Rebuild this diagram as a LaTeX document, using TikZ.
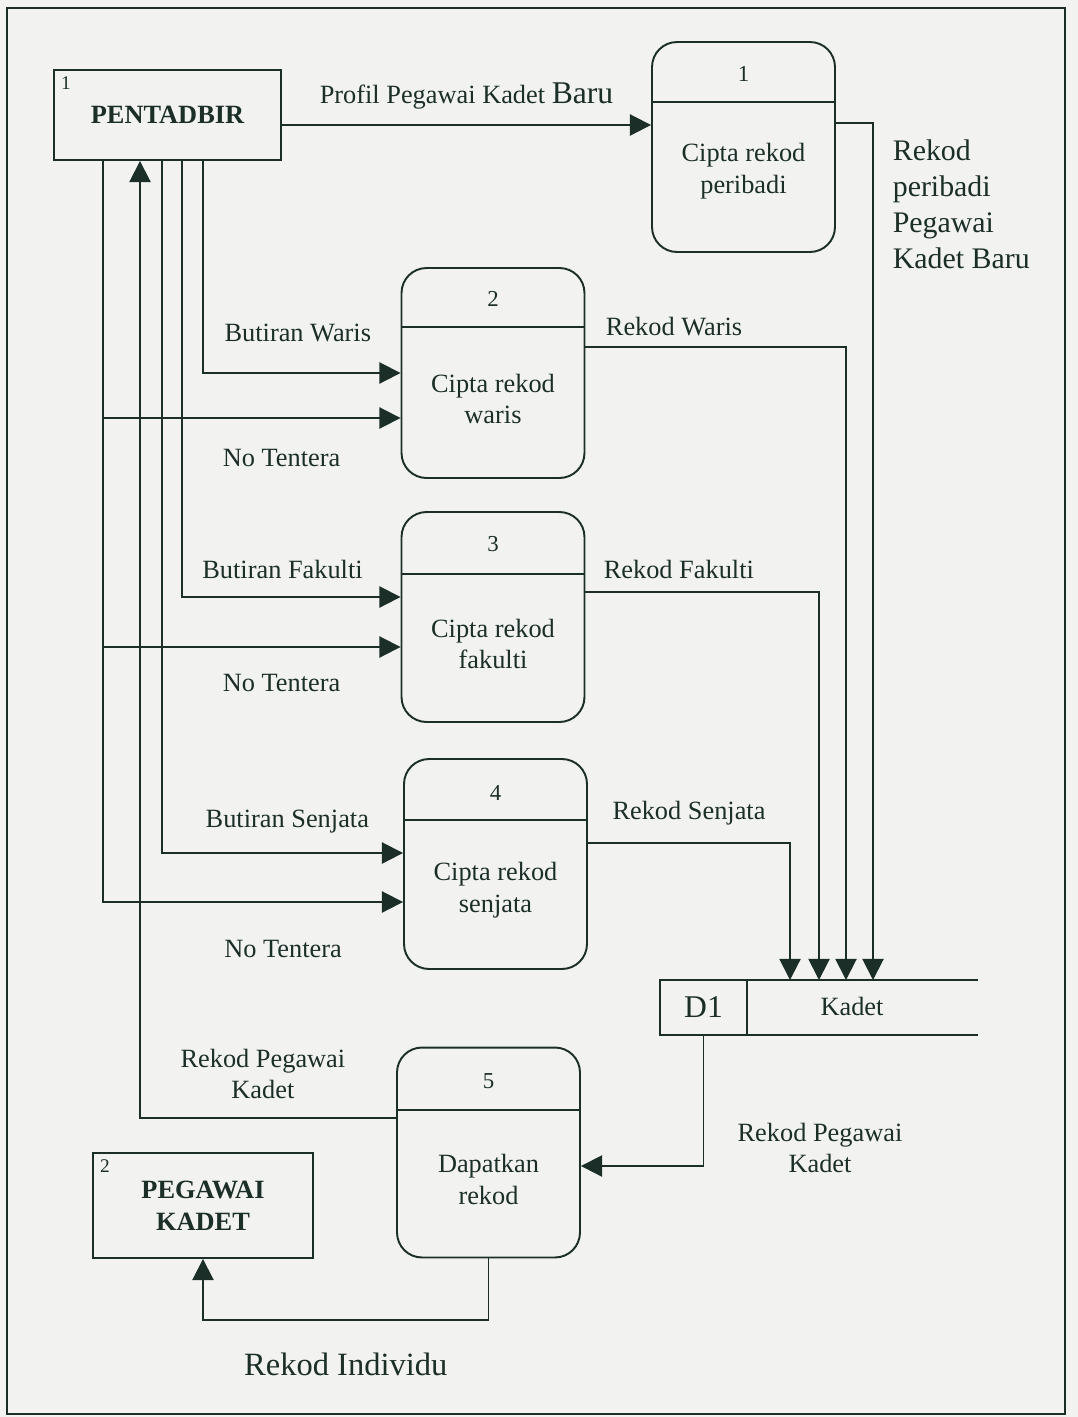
\documentclass[tikz,border=0pt]{standalone}
\usepackage{fontspec}
\setmainfont{Liberation Serif}
\usepackage{tikz}
\usetikzlibrary{arrows.meta,positioning,calc}

\definecolor{ink}{RGB}{28,46,40}
\definecolor{paper}{RGB}{242,243,241}

\begin{document}
\begin{tikzpicture}[
    x=0.02cm, y=-0.02cm,
    color=ink, line width=1.1pt,
    process/.style={rectangle, rounded corners=0.5cm, draw, minimum width=3.66cm, minimum height=4.2cm},
    ptext/.style={align=center, font=\fontsize{15}{18}\selectfont},
    pnum/.style={font=\fontsize{13}{15}\selectfont},
    entity/.style={rectangle, draw, align=center, font=\bfseries\fontsize{15}{18}\selectfont},
    entnum/.style={font=\fontsize{11}{12}\selectfont, inner xsep=4pt, inner ysep=4pt},
    flow/.style={align=center, font=\fontsize{15}{18}\selectfont},
    arrow/.style={-{Triangle[length=12pt,width=12pt]}}
]

\fill[paper] (0,0) rectangle (1078,1417);
\useasboundingbox (0,0) rectangle (1078,1417);
\draw[line width=1.2pt] (7,8) rectangle (1065,1414);

% External entities
\node[entity, minimum width=4.54cm, minimum height=1.8cm] (pentadbir) at (167.5,115) {PENTADBIR};
\node[entnum, anchor=north west] (pentnum) at (pentadbir.north west) {1};
\node[entity, minimum width=4.4cm, minimum height=2.1cm] (pegawai) at (203,1205.5) {PEGAWAI\\KADET};
\node[entnum, anchor=north west] (pegnum) at (pegawai.north west) {2};

% Processes
\node[process] (p1) at (743.5,147) {};
\node[pnum] (p1num) at ($(p1.north)+(0,33)$) {1};
\node[ptext] (p1txt) at ($(p1.center)+(0,24)$) {Cipta rekod\\peribadi};
\draw ($(p1.north west)+(0,61)$) -- ($(p1.north east)+(0,61)$);

\node[process] (p2) at (493,373) {};
\node[pnum] (p2num) at ($(p2.north)+(0,32)$) {2};
\node[ptext] (p2txt) at ($(p2.center)+(0,26)$) {Cipta rekod\\waris};
\draw ($(p2.north west)+(0,60)$) -- ($(p2.north east)+(0,60)$);

\node[process] (p3) at (493,617) {};
\node[pnum] (p3num) at ($(p3.north)+(0,33)$) {3};
\node[ptext] (p3txt) at ($(p3.center)+(0,27)$) {Cipta rekod\\fakulti};
\draw ($(p3.north west)+(0,63)$) -- ($(p3.north east)+(0,63)$);

\node[process] (p4) at (495.5,864) {};
\node[pnum] (p4num) at ($(p4.north)+(0,35)$) {4};
\node[ptext] (p4txt) at ($(p4.center)+(0,26)$) {Cipta rekod\\senjata};
\draw ($(p4.north west)+(0,62)$) -- ($(p4.north east)+(0,62)$);

\node[process] (p5) at (488.5,1152.5) {};
\node[pnum] (p5num) at ($(p5.north)+(0,35)$) {5};
\node[ptext] (p5txt) at ($(p5.center)+(0,27)$) {Dapatkan\\rekod};
\draw ($(p5.north west)+(0,63)$) -- ($(p5.north east)+(0,63)$);

% Data store
\node[draw, minimum width=1.74cm, minimum height=1.1cm, outer sep=0pt, font=\fontsize{18}{20}\selectfont] (d1) at (703.5,1007.5) {D1};
\node[minimum width=4.62cm, minimum height=1.1cm, outer sep=0pt] (kadet) at (862.5,1007.5) {};
\node[flow] (kadetlbl) at (852,1006) {Kadet};
\draw (d1.north east) -- (d1.north east -| kadet.east);
\draw (d1.south east) -- (d1.south east -| kadet.east);

\coordinate (in1) at ([xshift=0.21cm]kadet.north);
\coordinate (in2) at ([xshift=-0.33cm]kadet.north);
\coordinate (in3) at ([xshift=-0.87cm]kadet.north);
\coordinate (in4) at ([xshift=-1.45cm]kadet.north);

% Flows from PENTADBIR
\coordinate (profout) at ([yshift=-0.2cm]pentadbir.east);
\draw[arrow] (profout) -- node[flow, above=5pt] (lprofil) {Profil Pegawai Kadet {\fontsize{18}{20}\selectfont Baru}} (profout -| p1.west);

\draw[arrow] ([xshift=0.71cm]pentadbir.south) |- node[flow, above=14pt, pos=0.74] (lbwaris) {Butiran Waris} (p2.west);
\draw[arrow] ([xshift=0.29cm]pentadbir.south) |- node[flow, above=6.5pt, pos=0.73] (lbfakulti) {Butiran Fakulti} ([yshift=0.4cm]p3.west);
\draw[arrow] ([xshift=-0.11cm]pentadbir.south) |- node[flow, above=7.5pt, pos=0.76] (lbsenjata) {Butiran Senjata} ([yshift=0.22cm]p4.west);

\coordinate (trunk) at ([xshift=-1.29cm]pentadbir.south);
\coordinate (nt2) at ([yshift=-0.9cm]p2.west);
\coordinate (nt3) at ([yshift=-0.6cm]p3.west);
\coordinate (nt4) at ([yshift=-0.76cm]p4.west);
\draw[arrow] (trunk) |- node[flow, below=18pt, pos=0.8] (lnt4) {No Tentera} (nt4);
\draw[arrow] (trunk |- nt2) -- node[flow, below=14pt, pos=0.6] (lnt2) {No Tentera} (nt2);
\draw[arrow] (trunk |- nt3) -- node[flow, below=11.5pt, pos=0.6] (lnt3) {No Tentera} (nt3);

% Flows into the store
\draw[arrow] ([yshift=0.48cm]p1.east) -| (in1);
\node[flow, align=left, anchor=west, font=\fontsize{17}{20.5}\selectfont] (lperibadi) at (886,204) {Rekod\\peribadi\\Pegawai\\Kadet Baru};
\draw[arrow] ([yshift=0.52cm]p2.east) -| node[flow, above=2.5pt, pos=0.17] (lwaris) {Rekod Waris} (in2);
\draw[arrow] ([yshift=0.5cm]p3.east) -| node[flow, above=3.5pt, pos=0.2] (lfakulti) {Rekod Fakulti} (in3);
\draw[arrow] ([yshift=0.42cm]p4.east) -| node[flow, above=6.5pt, pos=0.25] (lsenjata) {Rekod Senjata} (in4);

% Retrieval
\draw[arrow] (d1.south) |- ([yshift=-0.27cm]p5.east);
\node[flow] (lrpk2) at (820,1148) {Rekod Pegawai\\Kadet};
\draw[arrow] ([yshift=0.69cm]p5.west) -| node[flow, above=7pt, pos=0.26] (lrpk1) {Rekod Pegawai\\Kadet} ([xshift=-0.55cm]pentadbir.south);
\draw[arrow] (p5.south) -- ++(0,62) -| node[flow, below=14.5pt, pos=0.25, font=\fontsize{18.5}{22}\selectfont] (lindiv) {Rekod Individu} (pegawai.south);

\end{tikzpicture}
\end{document}
